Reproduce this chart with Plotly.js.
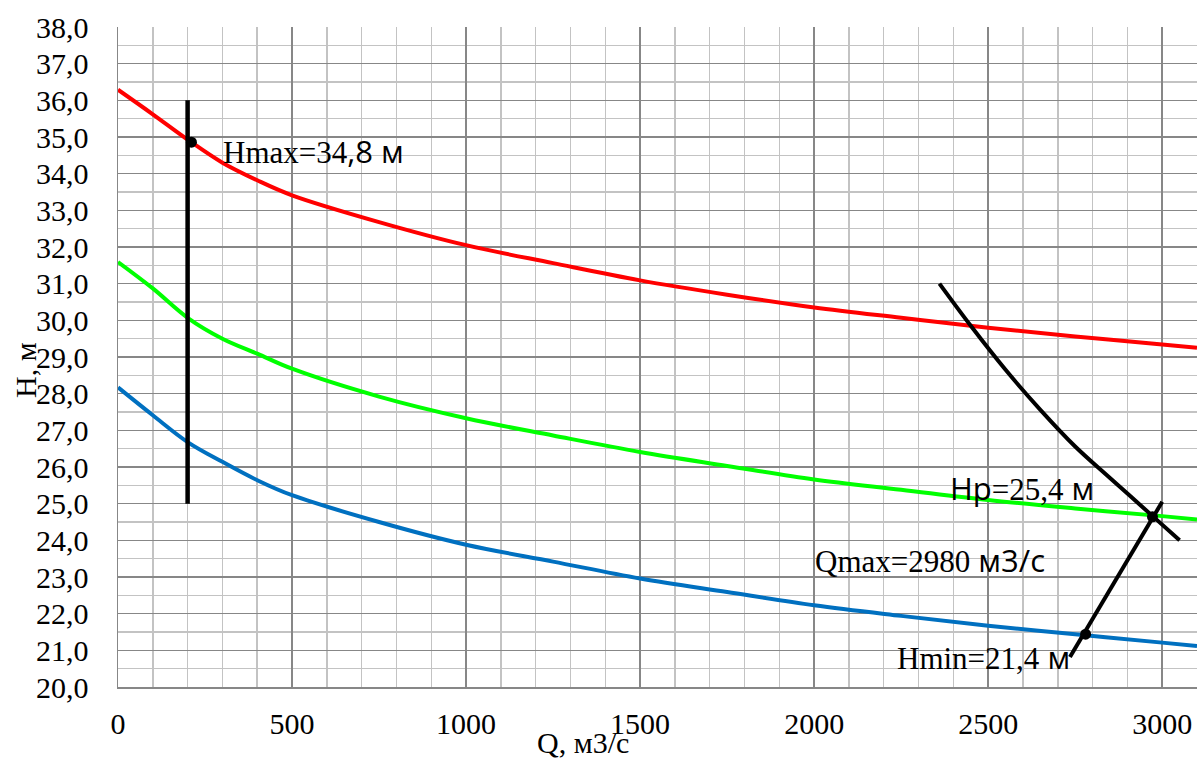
<!DOCTYPE html>
<html>
<head>
<meta charset="utf-8">
<script src="https://cdn.plot.ly/plotly-3.0.1.min.js"></script>
<style>html,body{margin:0;padding:0;background:#fff;}#chart{width:1200px;height:758px;}</style>
</head>
<body>
<div id="chart"></div>
<script>
// Flow Q, m3/s, shared by the three head curves
const qValues = [0, 100, 200, 300, 400, 500, 750, 1000, 1250, 1500, 1750, 2000, 2250, 2500, 2750, 3000, 3100];
// Head curves H, m
const hRed   = [36.29, 35.62, 34.93, 34.30, 33.82, 33.41, 32.68, 32.05, 31.56, 31.09, 30.70, 30.35, 30.07, 29.80, 29.56, 29.34, 29.25];
const hGreen = [31.59, 30.87, 30.07, 29.50, 29.09, 28.68, 27.92, 27.33, 26.86, 26.41, 26.03, 25.66, 25.38, 25.10, 24.87, 24.66, 24.57];
const hBlue  = [28.17, 27.41, 26.68, 26.14, 25.64, 25.23, 24.50, 23.88, 23.42, 22.96, 22.59, 22.23, 21.94, 21.67, 21.44, 21.21, 21.12];
// Vertical line at Q = 200
const vertQ = [200, 200];
const vertH = [25.0, 36.0];
// Limiting curve (upper right)
const limQ = [2360, 2450, 2550, 2650, 2750, 2850, 2975, 3050];
const limH = [31.0, 29.85, 28.65, 27.56, 26.56, 25.70, 24.64, 24.0];
// Straight line through Hmin and Hp points
const slopeQ = [2735, 3000];
const slopeH = [20.82, 25.05];
// Marked points
const pointQ = [211, 2972, 2780];
const pointH = [34.86, 24.64, 21.44];
// Labels
const SANS = '<span style="font-family:\'Open Sans\'">';
const labelTexts = [
  'Hmax=34' + SANS + ',8 м</span>',
  SANS + 'Hp</span>=25,4' + SANS + ' м</span>',
  'Qmax=2980' + SANS + ' м3/с</span>',
  'Hmin=21,4' + SANS + ' м</span>'
];
const labelQ = [297, 2385, 1997, 2232];
const labelH = [34.61, 25.42, 23.46, 20.81];
const xTitle = 'Q, м3/с';
const yTitle = 'H, м';

const serif = 'Liberation Serif, Times New Roman, serif';

const traces = [
  {x: qValues, y: hRed, mode: 'lines', line: {color: '#FF0000', width: 4, shape: 'spline', smoothing: 1}},
  {x: qValues, y: hGreen, mode: 'lines', line: {color: '#00FF00', width: 4, shape: 'spline', smoothing: 1}},
  {x: qValues, y: hBlue, mode: 'lines', line: {color: '#0070C0', width: 4, shape: 'spline', smoothing: 1}},
  {x: vertQ, y: vertH, mode: 'lines', line: {color: '#000000', width: 4.5}},
  {x: limQ, y: limH, mode: 'lines', line: {color: '#000000', width: 4, shape: 'spline', smoothing: 1}},
  {x: slopeQ, y: slopeH, mode: 'lines', line: {color: '#000000', width: 4}},
  {x: pointQ, y: pointH, mode: 'markers', marker: {color: '#000000', size: 11}}
];

const annotations = labelTexts.map((t, i) => ({
  x: labelQ[i], y: labelH[i], xref: 'x', yref: 'y', text: t, showarrow: false,
  xanchor: 'left', yanchor: 'middle', font: {family: serif, size: 31, color: '#000'}
}));

const W = 1200, H = 758, ml = 118, mr = 3, mt = 27, mb = 71;
const pw = W - ml - mr, ph = H - mt - mb;
annotations.push({x: (583 - ml) / pw, y: (H - mb - 742) / ph, xref: 'paper', yref: 'paper', text: xTitle, showarrow: false,
  font: {family: serif, size: 30, color: '#000'}, xanchor: 'center', yanchor: 'middle'});
annotations.push({x: (25 - ml) / pw, y: (H - mb - 370) / ph, xref: 'paper', yref: 'paper', text: yTitle, showarrow: false, textangle: -90,
  font: {family: serif, size: 30, color: '#000'}, xanchor: 'center', yanchor: 'middle'});

const layout = {
  width: W, height: H,
  margin: {l: ml, r: mr, t: mt, b: mb, pad: 0},
  paper_bgcolor: '#ffffff', plot_bgcolor: '#ffffff',
  showlegend: false,
  separators: ', ',
  font: {family: serif, size: 30, color: '#000'},
  xaxis: {
    range: [0, 3100], dtick: 500, tick0: 0, tickformat: 'd',
    showgrid: true, gridcolor: '#878787', gridwidth: 1.5,
    minor: {dtick: 100, tick0: 0, showgrid: true, gridcolor: '#c3c3c3', gridwidth: 1.5},
    zeroline: false, showline: true, linecolor: '#878787', linewidth: 1.5,
    ticks: '', ticklabelstandoff: 9,
    tickfont: {family: serif, size: 30, color: '#000'}
  },
  yaxis: {
    range: [20, 38], dtick: 1, tick0: 20, tickformat: '.1f',
    showgrid: true, gridcolor: '#878787', gridwidth: 1.5,
    minor: {dtick: 0.5, tick0: 20, showgrid: true, gridcolor: '#c3c3c3', gridwidth: 1.5},
    zeroline: false, showline: true, linecolor: '#878787', linewidth: 1.5,
    ticks: 'outside', ticklen: 22, tickcolor: 'rgba(0,0,0,0)',
    tickfont: {family: serif, size: 30, color: '#000'}
  },
  annotations: annotations
};

Plotly.newPlot('chart', traces, layout, {staticPlot: true, displayModeBar: false});
</script>
</body>
</html>
